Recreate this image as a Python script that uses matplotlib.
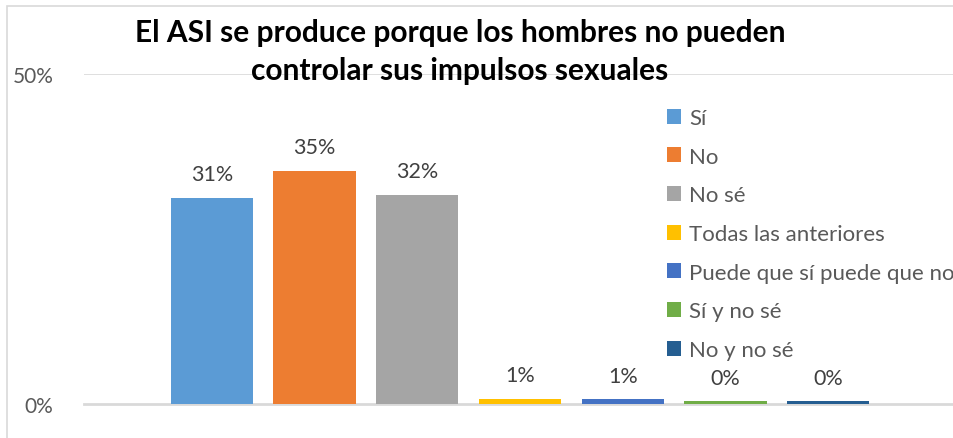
import matplotlib.pyplot as plt
from matplotlib.patches import Rectangle
from matplotlib.ticker import FuncFormatter

plt.rcParams['font.family'] = ['Lato', 'DejaVu Sans']

categories = ['Sí', 'No', 'No sé', 'Todas las anteriores', 'Puede que sí puede que no',
              'Sí y no sé', 'No y no sé']
values = [31.2, 35.3, 31.7, 0.8, 0.7, 0.4, 0.4]
colors = ['#5B9BD5', '#ED7D31', '#A5A5A5', '#FFC000', '#4472C4', '#70AD47', '#255E91']
title = 'El ASI se produce porque los hombres no pueden\ncontrolar sus impulsos sexuales'

W, H = 954, 439
fig = plt.figure(figsize=(W / 100, H / 100), dpi=100)

# chart area border
fig.patches.append(Rectangle((7 / W, -0.05), 2, (H - 7) / H + 0.05, transform=fig.transFigure,
                             fill=False, edgecolor='#D9D9D9', linewidth=1.2))

ax = fig.add_axes([84 / W, (H - 405) / H, 872 / W, 330 / H])
x = list(range(len(values)))
bars = ax.bar(x, values, width=0.8, color=colors, label=categories, zorder=3)
ax.set_xlim(3 - 4.245, 3 + 4.245)
ax.set_ylim(0, 50)
ax.set_yticks([0, 50])
ax.yaxis.set_major_formatter(FuncFormatter(lambda v, p: f'{v:.0f}%'))
ax.tick_params(axis='y', length=0, pad=22, labelsize=15, labelcolor='#595959')
ax.set_xticks([])
for s in ['top', 'right', 'left']:
    ax.spines[s].set_visible(False)
ax.spines['bottom'].set_color('#D9D9D9')
ax.spines['bottom'].set_linewidth(2)
ax.axhline(50, color='#D9D9D9', linewidth=1.2, zorder=1)

for b, v in zip(bars, values):
    ax.annotate(f'{v:.0f}%', (b.get_x() + b.get_width() / 2, v), xytext=(0, 17),
                textcoords='offset points', ha='center', va='center',
                fontsize=15.5, color='#404040')

fig.text(460 / W, 1 - 52 / H, title, ha='center', va='center', fontsize=21.5,
         fontweight='bold', color='black', linespacing=1.45)

leg = ax.legend(loc='upper left', bbox_to_anchor=(667 / W, 1 - 109 / H),
                bbox_transform=fig.transFigure, frameon=False, fontsize=16,
                handlelength=0.65, handleheight=0.65, handletextpad=0.35,
                labelspacing=0.84, borderpad=0, borderaxespad=0)
for t in leg.get_texts():
    t.set_color('#595959')

fig.savefig('out.png', dpi=100)
